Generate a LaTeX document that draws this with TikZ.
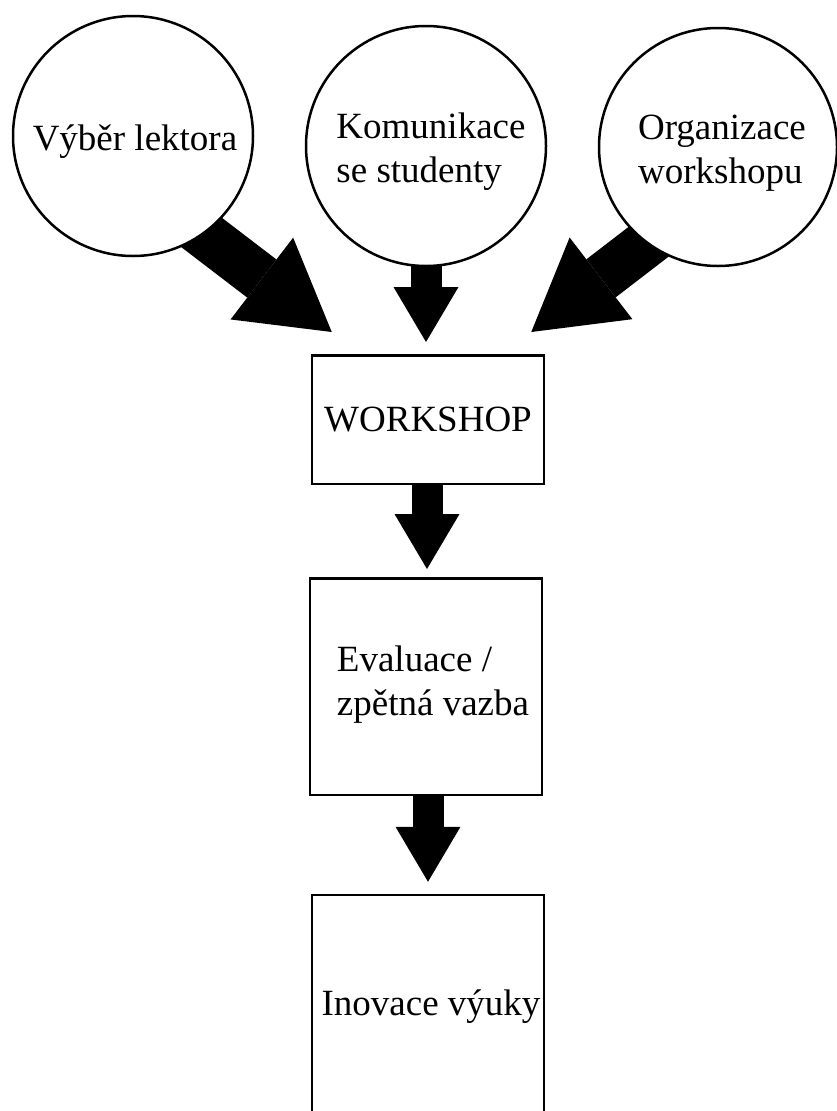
\documentclass[tikz,border=0pt]{standalone}
\usepackage{fontspec}
\setmainfont{Liberation Serif}
\usetikzlibrary{arrows.meta,calc,backgrounds}
\begin{document}
\begin{tikzpicture}[x=1pt,y=-1pt,
  txt/.style={font=\fontsize{37}{44}\selectfont, inner sep=0pt, align=left},
  bubble/.style={circle, draw, line width=2.5pt, fill=white, minimum size=240pt, inner sep=0pt},
  box/.style={rectangle, draw, line width=2.5pt, fill=white, minimum width=232pt, inner sep=0pt, txt},
  bigarrow/.style={line width=48pt, -{Triangle[length=88pt,width=103pt,line width'=0pt]}},
  smallarrow/.style={line width=31pt, -{Triangle[length=55pt,width=65pt,line width'=0pt]}}]
\useasboundingbox (0,0) rectangle (837,1111);
\clip (0,0) rectangle (837,1111);
% bubbles
\node[bubble] (c1) at (133,136) {};
\node[txt] (c1t) at ($(c1)+(2,6)$) {Výběr lektora};
\node[bubble] (c2) at (426,146) {};
\node[txt] (c2t) at ($(c2)+(5,6)$) {Komunikace\\se studenty};
\node[bubble, minimum size=238pt] (c3) at (718,147) {};
\node[txt] (c3t) at ($(c3)+(4,6)$) {Organizace\\workshopu};
% boxes
\node[box, minimum height=128.5pt] (ws) at (428,419.5) {\raisebox{-4pt}{WORKSHOP}};
\node[box, minimum height=216.5pt] (ev) at (426,686.5) {};
\node[txt, anchor=west] (evt) at ($(ev.west)+(28,-2)$) {Evaluace /\\zpětná vazba};
\node[box, minimum height=240pt] (inv) at (428,1015) {};
\node[txt] (invt) at ($(inv.north)+(3,113)$) {Inovace výuky};
% arrows
\begin{scope}[on background layer]
\fill[white] (0,0) rectangle (837,1111);
\coordinate (s1) at (150,193);
\coordinate (t1) at ($(ws.north west)+(21,-22)$);
\coordinate (s3) at (712,193);
\coordinate (t3) at ($(ws.north east)+(-14,-22)$);
\coordinate (t2) at ($(ws.north)+(-2,-12)$);
\coordinate (t4) at ($(ev.north)+(1,-8)$);
\coordinate (t5) at ($(inv.north)+(0,-12)$);
\draw[bigarrow] (s1) -- (t1);
\draw[bigarrow] (s3) -- (t3);
\draw[smallarrow] (c2.center -| t2) -- (t2);
\draw[smallarrow] (ws.south -| t4) -- (t4);
\draw[smallarrow] (ev.south -| t5) -- (t5);
\end{scope}
\end{tikzpicture}
\end{document}
